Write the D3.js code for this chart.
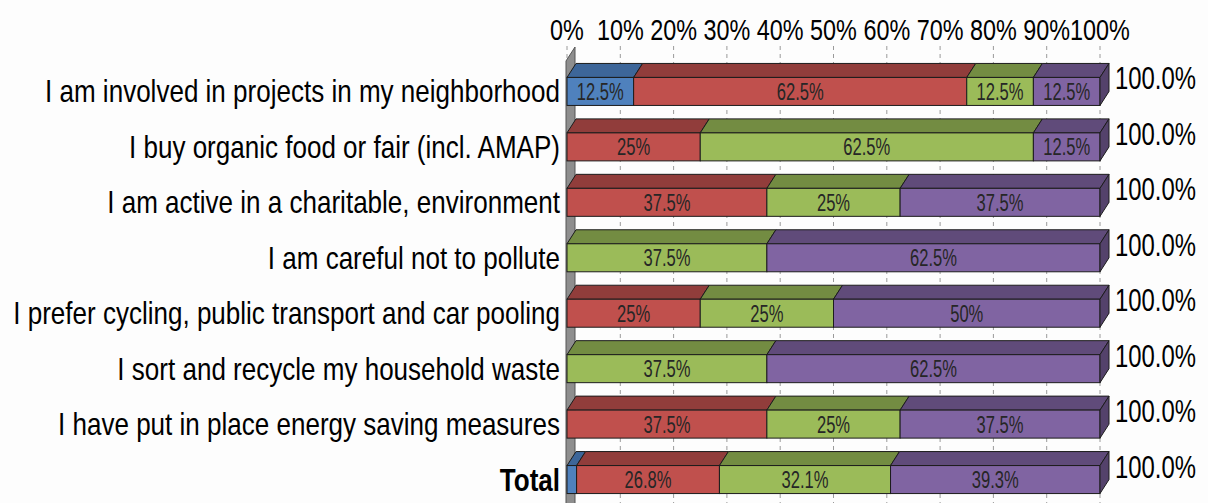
<!DOCTYPE html>
<html>
<head>
<meta charset="utf-8">
<script src="https://cdn.jsdelivr.net/npm/d3@7"></script>
<style>
  html, body { margin: 0; padding: 0; background: #fdfdfd; }
  svg { display: block; }
  text { font-family: "Liberation Sans", Arial, sans-serif; }
</style>
</head>
<body>
<svg id="chart" width="1208" height="503"></svg>
<script>
// Survey statements (rows, top to bottom)
const categories = [
  "I am involved in projects in my neighborhood",
  "I buy organic food or fair (incl. AMAP)",
  "I am active in a charitable, environment",
  "I am careful not to pollute",
  "I prefer cycling, public transport and car pooling",
  "I sort and recycle my household waste",
  "I have put in place energy saving measures",
  "Total"
];

// Share of answers per statement (percent), one array per answer group
const seriesBlue   = [12.5, 0,    0,    0,    0,  0,    0,    1.8];
const seriesRed    = [62.5, 25,   37.5, 0,    25, 0,    37.5, 26.8];
const seriesGreen  = [12.5, 62.5, 25,   37.5, 25, 37.5, 25,   32.1];
const seriesPurple = [12.5, 12.5, 37.5, 62.5, 50, 62.5, 37.5, 39.3];

// Axis ticks
const tickValues = [0, 10, 20, 30, 40, 50, 60, 70, 80, 90, 100];
const tickLabels = ["0%", "10%", "20%", "30%", "40%", "50%", "60%", "70%", "80%", "90%", "100%"];

const seriesKeys = ["blue", "red", "green", "purple"];
const table = categories.map((c, i) => ({
  category: c,
  blue: seriesBlue[i],
  red: seriesRed[i],
  green: seriesGreen[i],
  purple: seriesPurple[i]
}));

const faceColors = {
  blue:   { front: "#4f81bd", top: "#3d6699", side: "#355a88" },
  red:    { front: "#c0504d", top: "#913d3b", side: "#7f3533" },
  green:  { front: "#9bbb59", top: "#738c42", side: "#657b3a" },
  purple: { front: "#8064a2", top: "#604b7a", side: "#54426b" }
};

const svg = d3.select("#chart");
const DX = 9, DY = 14;            // 3D depth offset
const EDGE = "#1c1c1c";

const x = d3.scaleLinear().domain([0, 100]).range([567, 1100]);
const y = d3.scaleBand().domain(categories).range([50, 521])
  .paddingInner(0.495).paddingOuter(0.495);
const h = y.bandwidth();

const stacked = d3.stack().keys(seriesKeys)(table);

function squeeze(sel, fx, fy, sx) {
  sel.attr("transform", (d, i) => `translate(${fx(d, i)},${fy(d, i)}) scale(${sx},1)`);
}

// Dashed gridlines
svg.append("g").selectAll("line").data(tickValues).join("line")
  .attr("x1", d => x(d)).attr("x2", d => x(d))
  .attr("y1", 46).attr("y2", 503)
  .attr("stroke", "#9a9a9a").attr("stroke-width", 1)
  .attr("stroke-dasharray", "4,4");

// Left wall at 0%
const wx = x(0) - 1;
svg.append("polygon")
  .attr("points", [[wx, 61], [wx + DX, 47], [wx + DX, 520], [wx, 534]].map(p => p.join(",")).join(" "))
  .attr("fill", "#8e8e8e").attr("stroke", "#555").attr("stroke-width", 1);

// Bars
const rows = svg.append("g");
categories.forEach((cat, ri) => {
  const yt = y(cat);
  const g = rows.append("g");
  let last = null;
  stacked.forEach(layer => {
    const d = layer[ri];
    const x1 = x(d[0]), x2 = x(d[1]);
    if (d[1] - d[0] <= 0) return;
    const col = faceColors[layer.key];
    g.append("polygon")
      .attr("points", [[x1, yt], [x1 + DX, yt - DY], [x2 + DX, yt - DY], [x2, yt]].map(p => p.join(",")).join(" "))
      .attr("fill", col.top).attr("stroke", EDGE).attr("stroke-width", 1).attr("stroke-linejoin", "round");
    g.append("rect")
      .attr("x", x1).attr("y", yt).attr("width", x2 - x1).attr("height", h)
      .attr("fill", col.front).attr("stroke", EDGE).attr("stroke-width", 1);
    last = { x2, col };
    const v = d[1] - d[0];
    if (x2 - x1 > 30) {
      g.append("text").datum(v)
        .text(v + "%")
        .attr("text-anchor", "middle")
        .attr("font-size", 23)
        .attr("fill", "#262626")
        .call(squeeze, () => (x1 + x2) / 2, () => yt + h / 2 + 8.5, 0.72);
    }
  });
  if (last) {
    const x2 = last.x2;
    g.append("polygon")
      .attr("points", [[x2, yt], [x2 + DX, yt - DY], [x2 + DX, yt - DY + h], [x2, yt + h]].map(p => p.join(",")).join(" "))
      .attr("fill", last.col.side).attr("stroke", EDGE).attr("stroke-width", 1).attr("stroke-linejoin", "round");
  }
});

// Row totals
svg.append("g").selectAll("text").data(table).join("text")
  .text(d => d3.format(".1f")(d3.sum(seriesKeys, k => d[k])) + "%")
  .attr("font-size", 31)
  .attr("fill", "#000")
  .call(squeeze, () => x(100) + DX + 6, d => y(d.category) + 12, 0.77);

// Category labels
svg.append("g").selectAll("text").data(categories).join("text")
  .text(d => d)
  .attr("text-anchor", "end")
  .attr("font-size", 31)
  .attr("font-weight", d => d === "Total" ? "bold" : "normal")
  .attr("fill", "#000")
  .call(squeeze, () => 560, d => y(d) + h / 2 + 11, 0.84);

// Top axis labels
svg.append("g").selectAll("text").data(tickValues).join("text")
  .text((d, i) => tickLabels[i])
  .attr("text-anchor", "middle")
  .attr("font-size", 30)
  .attr("fill", "#000")
  .call(squeeze, d => x(d), () => 40, 0.78);
</script>
</body>
</html>
